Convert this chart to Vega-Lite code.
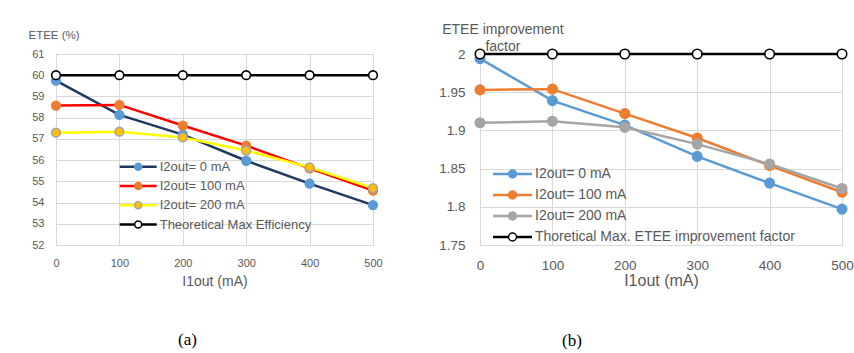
{
  "$schema": "https://vega.github.io/schema/vega-lite/v6.json",
  "background": "white",
  "padding": {"left": 28, "top": 22, "right": 0, "bottom": 0},
  "spacing": 107,
  "bounds": "flush",
  "resolve": {"scale": {"fill": "independent", "stroke": "independent"}, "legend": {"fill": "independent", "stroke": "independent"}},
  "config": {
    "font": "Liberation Sans",
    "view": {"stroke": null},
    "axis": {
      "gridColor": "#D9D9D9",
      "domainColor": "#D9D9D9",
      "ticks": false,
      "labelFlush": false,
      "labelColor": "#595959",
      "titleColor": "#595959",
      "titleFontWeight": "normal",
      "titleFont": "Liberation Sans",
      "labelFont": "Liberation Sans"
    },
    "legend": {"labelColor": "#595959", "labelFont": "Liberation Sans", "padding": 0, "labelLimit": 400, "title": null}
  },
  "datasets": {
    "a": [
      {"x": 0, "series": "I2out= 0 mA", "y": 59.75},
      {"x": 100, "series": "I2out= 0 mA", "y": 58.13},
      {"x": 200, "series": "I2out= 0 mA", "y": 57.2},
      {"x": 300, "series": "I2out= 0 mA", "y": 55.97},
      {"x": 400, "series": "I2out= 0 mA", "y": 54.89},
      {"x": 500, "series": "I2out= 0 mA", "y": 53.88},
      {"x": 0, "series": "I2out= 100 mA", "y": 58.57},
      {"x": 100, "series": "I2out= 100 mA", "y": 58.6},
      {"x": 200, "series": "I2out= 100 mA", "y": 57.63},
      {"x": 300, "series": "I2out= 100 mA", "y": 56.68},
      {"x": 400, "series": "I2out= 100 mA", "y": 55.61},
      {"x": 500, "series": "I2out= 100 mA", "y": 54.56},
      {"x": 0, "series": "I2out= 200 mA", "y": 57.29},
      {"x": 100, "series": "I2out= 200 mA", "y": 57.34},
      {"x": 200, "series": "I2out= 200 mA", "y": 57.07},
      {"x": 300, "series": "I2out= 200 mA", "y": 56.45},
      {"x": 400, "series": "I2out= 200 mA", "y": 55.66},
      {"x": 500, "series": "I2out= 200 mA", "y": 54.68},
      {"x": 0, "series": "Theoretical Max Efficiency", "y": 60},
      {"x": 100, "series": "Theoretical Max Efficiency", "y": 60},
      {"x": 200, "series": "Theoretical Max Efficiency", "y": 60},
      {"x": 300, "series": "Theoretical Max Efficiency", "y": 60},
      {"x": 400, "series": "Theoretical Max Efficiency", "y": 60},
      {"x": 500, "series": "Theoretical Max Efficiency", "y": 60}
    ],
    "b": [
      {"x": 0, "series": "I2out= 0 mA", "y": 1.994},
      {"x": 100, "series": "I2out= 0 mA", "y": 1.939},
      {"x": 200, "series": "I2out= 0 mA", "y": 1.907},
      {"x": 300, "series": "I2out= 0 mA", "y": 1.866},
      {"x": 400, "series": "I2out= 0 mA", "y": 1.831},
      {"x": 500, "series": "I2out= 0 mA", "y": 1.797},
      {"x": 0, "series": "I2out= 100 mA", "y": 1.953},
      {"x": 100, "series": "I2out= 100 mA", "y": 1.954},
      {"x": 200, "series": "I2out= 100 mA", "y": 1.922},
      {"x": 300, "series": "I2out= 100 mA", "y": 1.89},
      {"x": 400, "series": "I2out= 100 mA", "y": 1.854},
      {"x": 500, "series": "I2out= 100 mA", "y": 1.819},
      {"x": 0, "series": "I2out= 200 mA", "y": 1.91},
      {"x": 100, "series": "I2out= 200 mA", "y": 1.912},
      {"x": 200, "series": "I2out= 200 mA", "y": 1.904},
      {"x": 300, "series": "I2out= 200 mA", "y": 1.882},
      {"x": 400, "series": "I2out= 200 mA", "y": 1.856},
      {"x": 500, "series": "I2out= 200 mA", "y": 1.824},
      {"x": 0, "series": "Thoretical Max. ETEE improvement factor", "y": 2},
      {"x": 100, "series": "Thoretical Max. ETEE improvement factor", "y": 2},
      {"x": 200, "series": "Thoretical Max. ETEE improvement factor", "y": 2},
      {"x": 300, "series": "Thoretical Max. ETEE improvement factor", "y": 2},
      {"x": 400, "series": "Thoretical Max. ETEE improvement factor", "y": 2},
      {"x": 500, "series": "Thoretical Max. ETEE improvement factor", "y": 2}
    ]
  },
  "hconcat": [
    {
      "width": 317,
      "height": 191,
      "data": {"name": "a"},
      "title": {"text": "(a)", "orient": "bottom", "font": "Liberation Serif", "fontSize": 17, "fontWeight": "normal", "color": "black", "dx": -27, "offset": 44},
      "encoding": {
        "x": {"field": "x", "type": "quantitative", "scale": {"domain": [0, 500], "nice": false},
          "axis": {"values": [0, 100, 200, 300, 400, 500], "title": "I1out (mA)", "titleFontSize": 14, "labelFontSize": 11, "labelPadding": 12, "titlePadding": 6, "grid": true}},
        "y": {"field": "y", "type": "quantitative", "scale": {"domain": [52, 61], "nice": false, "zero": false},
          "axis": {"values": [52, 53, 54, 55, 56, 57, 58, 59, 60, 61], "title": "ETEE (%)", "titleAngle": 0, "titleAlign": "left", "titleBaseline": "alphabetic", "titleX": -28, "titleY": -16, "titleFontSize": 11.5, "labelFontSize": 11, "labelPadding": 12, "grid": true}}
      },
      "layer": [
        {
          "mark": {"type": "line", "strokeWidth": 2.5},
          "encoding": {
            "stroke": {"field": "series", "type": "nominal",
              "scale": {"domain": ["I2out= 0 mA", "I2out= 100 mA", "I2out= 200 mA", "Theoretical Max Efficiency"], "range": ["#203864", "#FF0000", "#FFFF00", "#000000"]},
              "legend": {"orient": "none", "legendX": 63.7, "legendY": 106.2, "zindex": 1, "symbolType": "M-5.286,0H5.286", "symbolSize": 49, "symbolStrokeWidth": 2.5, "symbolOffset": 12, "labelOffset": 15, "labelFontSize": 13, "rowPadding": 5.3}}
          }
        },
        {
          "mark": {"type": "point", "filled": true, "opacity": 1, "size": 75, "strokeWidth": 1.6},
          "encoding": {
            "fill": {"field": "series", "type": "nominal",
              "scale": {"range": ["#5B9BD5", "#ED7D31", "#FFC000", "#FFFFFF"]},
              "legend": {"orient": "none", "legendX": 63.7, "legendY": 106.2, "zindex": 2, "symbolType": "circle", "symbolSize": 49, "symbolStrokeWidth": 0, "symbolOffset": 12, "labelOffset": 15, "labelFontSize": 13, "rowPadding": 5.3, "labelOpacity": 0}},
            "stroke": {"field": "series", "type": "nominal",
              "scale": {"domain": ["I2out= 0 mA", "I2out= 100 mA", "I2out= 200 mA", "Theoretical Max Efficiency"], "range": ["#5B9BD5", "#ED7D31", "#A5A5A5", "#000000"]},
              "legend": {"orient": "none", "legendX": 63.7, "legendY": 106.2, "zindex": 3, "symbolType": "circle", "symbolSize": 49, "symbolStrokeWidth": 1.5, "symbolFillColor": "transparent", "symbolOffset": 12, "labelOffset": 15, "labelFontSize": 13, "rowPadding": 5.3, "labelOpacity": 0}}
          }
        }
      ],
      "resolve": {"scale": {"stroke": "independent", "fill": "independent"}}
    },
    {
      "width": 362,
      "height": 191,
      "data": {"name": "b"},
      "title": {"text": "(b)", "orient": "bottom", "font": "Liberation Serif", "fontSize": 17, "fontWeight": "normal", "color": "black", "dx": -89, "offset": 44},
      "encoding": {
        "x": {"field": "x", "type": "quantitative", "scale": {"domain": [0, 500], "nice": false},
          "axis": {"values": [0, 100, 200, 300, 400, 500], "title": "I1out (mA)", "titleFontSize": 16, "labelFontSize": 13.5, "labelPadding": 13, "titlePadding": 1, "grid": true}},
        "y": {"field": "y", "type": "quantitative", "scale": {"domain": [1.75, 2], "nice": false, "zero": false},
          "axis": {"values": [1.75, 1.8, 1.85, 1.9, 1.95, 2], "format": ".3~g", "title": ["ETEE improvement", "factor"], "titleAngle": 0, "titleAlign": "center", "titleBaseline": "alphabetic", "titleX": 22.4, "titleY": -21, "titleLineHeight": 17.5, "titleFontSize": 14, "labelFontSize": 13.5, "labelPadding": 15, "grid": true}}
      },
      "layer": [
        {
          "mark": {"type": "line", "strokeWidth": 2.5},
          "encoding": {
            "stroke": {"field": "series", "type": "nominal",
              "scale": {"domain": ["I2out= 0 mA", "I2out= 100 mA", "I2out= 200 mA", "Thoretical Max. ETEE improvement factor"], "range": ["#5B9BD5", "#ED7D31", "#A5A5A5", "#000000"]},
              "legend": {"orient": "none", "legendX": 13, "legendY": 113, "zindex": 1, "symbolType": "M-4.875,0H4.875", "symbolSize": 64, "symbolStrokeWidth": 2.5, "symbolOffset": 12.5, "labelOffset": 15.5, "labelFontSize": 14, "rowPadding": 7}}
          }
        },
        {
          "mark": {"type": "point", "filled": true, "opacity": 1, "size": 90, "strokeWidth": 1.6},
          "encoding": {
            "fill": {"field": "series", "type": "nominal",
              "scale": {"range": ["#5B9BD5", "#ED7D31", "#A5A5A5", "#FFFFFF"]},
              "legend": {"orient": "none", "legendX": 13, "legendY": 113, "zindex": 2, "symbolType": "circle", "symbolSize": 64, "symbolStrokeWidth": 0, "symbolOffset": 12.5, "labelOffset": 15.5, "labelFontSize": 14, "rowPadding": 7, "labelOpacity": 0}},
            "stroke": {"field": "series", "type": "nominal",
              "scale": {"domain": ["I2out= 0 mA", "I2out= 100 mA", "I2out= 200 mA", "Thoretical Max. ETEE improvement factor"], "range": ["#5B9BD5", "#ED7D31", "#A5A5A5", "#000000"]},
              "legend": {"orient": "none", "legendX": 13, "legendY": 113, "zindex": 3, "symbolType": "circle", "symbolSize": 64, "symbolStrokeWidth": 1.5, "symbolFillColor": "transparent", "symbolOffset": 12.5, "labelOffset": 15.5, "labelFontSize": 14, "rowPadding": 7, "labelOpacity": 0}}
          }
        }
      ],
      "resolve": {"scale": {"stroke": "independent", "fill": "independent"}}
    }
  ]
}
